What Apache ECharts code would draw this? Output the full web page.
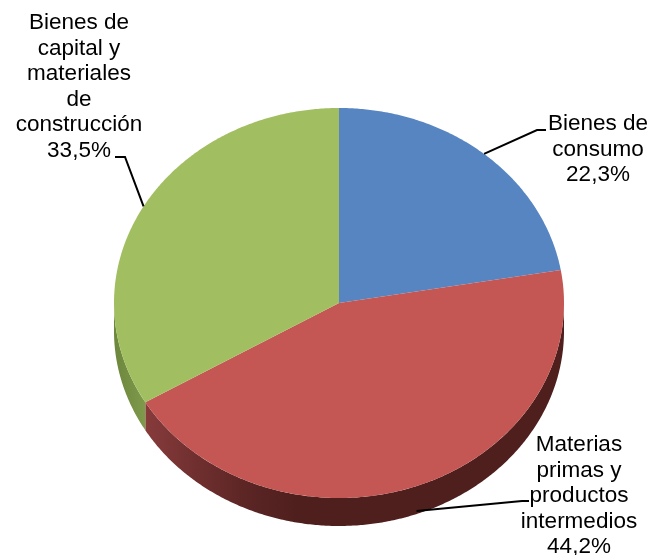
<!DOCTYPE html>
<html>
<head>
<meta charset="utf-8">
<style>
  html, body { margin: 0; padding: 0; background: #fff; }
  #chart { width: 652px; height: 555px; }
</style>
</head>
<body>
<div id="chart"></div>
<script src="https://cdn.jsdelivr.net/npm/echarts@6/dist/echarts.min.js"></script>
<script>
const categories = ['Bienes de\nconsumo', 'Materias\nprimas y\nproductos\nintermedios', 'Bienes de\ncapital y\nmateriales\nde\nconstrucción']
const shares = [22.3, 44.2, 33.5]
const topColors = ['#5685c2', '#c45653', '#a1bf60']
const wallStops = [
  [],
  [[0, '#873b3b'], [0.12, '#702f2f'], [0.25, '#5a2524'], [0.36, '#4f1f1e'], [1, '#4f1f1e']],
  [[0, '#6c863c'], [1, '#7f9a4b']]
]

// label block centre / first line y, and the leader's bend points
const labelLayout = [
  { x: 598, y: 124, bend: [[537, 130], [546, 130]], onWall: false },
  { x: 579, y: 445, bend: [[522, 501], [529, 501]], onWall: true },
  { x: 79, y: 23, bend: [[125, 157], [115, 157]], onWall: false }
]

const cx = 339
const cy = 303
const rx = 225
const ry = 195
const depth = 28
const lineHeight = 25.5
const total = shares.reduce((a, b) => a + b, 0)

// angle in degrees, clockwise from north
const rimPoint = (deg, dy = 0) => {
  const a = (deg * Math.PI) / 180
  return [cx + rx * Math.sin(a), cy - ry * Math.cos(a) + dy]
}

const arcPoints = (from, to, dy = 0) => {
  const pts = []
  const steps = Math.max(2, Math.ceil(Math.abs(to - from) * 2))
  for (let i = 0; i <= steps; i++) {
    pts.push(rimPoint(from + ((to - from) * i) / steps, dy))
  }
  return pts
}

const renderSlice = (params, api) => {
  const i = params.dataIndex
  const before = shares.slice(0, i).reduce((a, b) => a + b, 0)
  const start = (before / total) * 360
  const end = start + (api.value(0) / total) * 360
  const children = []

  // front wall, only the part between 90 and 270 degrees faces the viewer
  const wallFrom = Math.max(start, 90)
  const wallTo = Math.min(end, 270)
  if (wallTo > wallFrom) {
    children.push({
      type: 'polygon',
      shape: { points: arcPoints(wallFrom, wallTo).concat(arcPoints(wallTo, wallFrom, depth)) },
      style: {
        fill: new echarts.graphic.LinearGradient(0, 0, 1, 0, wallStops[i].map(([offset, color]) => ({ offset, color })))
      }
    })
  }

  children.push({
    type: 'polygon',
    shape: { points: [[cx, cy]].concat(arcPoints(start, end)) },
    style: { fill: topColors[i] }
  })

  const layout = labelLayout[i]
  const mid = (start + end) / 2
  children.push({
    type: 'polyline',
    z2: 20,
    shape: { points: [rimPoint(mid, layout.onWall ? depth - 3 : 0)].concat(layout.bend) },
    style: { stroke: '#000', lineWidth: 2, fill: null }
  })
  const percent = api.value(0).toFixed(1).replace('.', ',') + '%'
  children.push({
    type: 'text',
    z2: 30,
    style: {
      x: layout.x,
      y: layout.y - lineHeight / 2,
      text: categories[i] + '\n' + percent,
      fill: '#000',
      align: 'center',
      verticalAlign: 'top',
      font: '22.5px "Liberation Sans", Arial, sans-serif',
      lineHeight
    }
  })
  return { type: 'group', children }
}

const chart = echarts.init(document.getElementById('chart'))
chart.setOption({
  animation: false,
  backgroundColor: '#fff',
  series: [
    {
      type: 'custom',
      coordinateSystem: 'none',
      renderItem: renderSlice,
      data: shares.map((v) => [v])
    }
  ]
})
</script>
</body>
</html>
